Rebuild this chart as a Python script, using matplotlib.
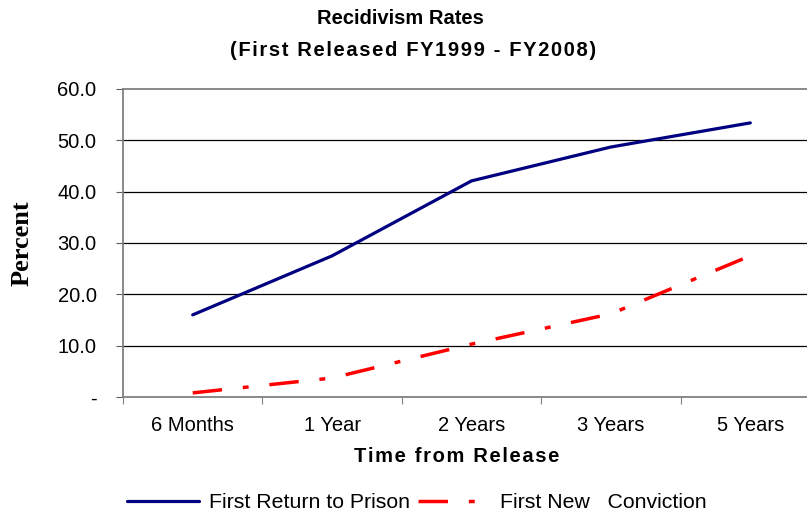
import matplotlib.pyplot as plt
import numpy as np

# data
categories = ["6 Months", "1 Year", "2 Years", "3 Years", "5 Years"]
return_to_prison = [16.0, 27.5, 42.1, 48.7, 53.4]
new_conviction = [0.8, 3.7, 10.3, 16.2, 27.5]
yticks = [0, 10, 20, 30, 40, 50, 60]
ytick_labels = ["-", "10.0", "20.0", "30.0", "40.0", "50.0", "60.0"]

plt.rcParams['font.family'] = ['Liberation Sans', 'DejaVu Sans']

HAIR = "\u200a"


def spaced(s):
    # imitate the slight letter spacing of the original
    return HAIR.join(s)


fig = plt.figure(figsize=(8.07, 5.14), dpi=100)
W, H = 807, 514
# plot area runs a bit past the right edge, like the original
left, right, top, bottom = 123, 820, 89, 397
ax = fig.add_axes([left / W, 1 - bottom / H, (right - left) / W, (bottom - top) / H])

x = np.arange(len(categories))
ax.plot(x, return_to_prison, color="#000080", lw=2.3, solid_capstyle="round",
        label="First Return to Prison")
red, = ax.plot(x, new_conviction, color="#ff0000", lw=2.5,
               label="First New   Conviction")
red.set_dashes([8.5, 6, 1.7, 6])

ax.set_xlim(-0.5, len(categories) - 0.5)
ax.set_ylim(0, 60)
ax.set_yticks(yticks)
ax.set_yticklabels(ytick_labels, fontsize=14.5)
ax.set_xticks(np.arange(len(categories) + 1) - 0.5)
ax.set_xticklabels([])
ax.set_xticks(x, minor=True)
ax.set_xticklabels(categories, minor=True, fontsize=14.5)
ax.tick_params(axis="x", which="minor", length=0, pad=14)
ax.tick_params(axis="x", which="major", length=5, color="#808080", direction="out")
ax.tick_params(axis="y", length=5, color="#606060", pad=14)

for yv in yticks[1:-1]:
    ax.axhline(yv, color="black", lw=0.9, zorder=0)

for side in ["left", "bottom", "top"]:
    ax.spines[side].set_color("#808080")
    ax.spines[side].set_linewidth(1.3)
ax.spines["right"].set_visible(False)

fig.text(22 / W, 1 - 243 / H, "Percent", family=["Liberation Serif", "DejaVu Serif"],
         fontweight="bold", fontsize=19, rotation=90, ha="center", va="center")
fig.text(457 / W, 1 - 457 / H, spaced("Time from Release"),
         fontweight="bold", fontsize=14.5, ha="center", va="center")

fig.text(400 / W, 1 - 19 / H, "Recidivism Rates",
         ha="center", va="center", fontweight="bold", fontsize=14.5)
fig.text(413 / W, 1 - 50 / H, spaced("(First Released FY1999 - FY2008)"),
         ha="center", va="center", fontweight="bold", fontsize=14.5)

fig.legend(loc="center", bbox_to_anchor=(417 / W, 1 - 503 / H), ncol=2, frameon=False,
           fontsize=15.3, handlelength=3.4, columnspacing=0.4, handletextpad=0.45)

fig.savefig("out.png", dpi=100)
